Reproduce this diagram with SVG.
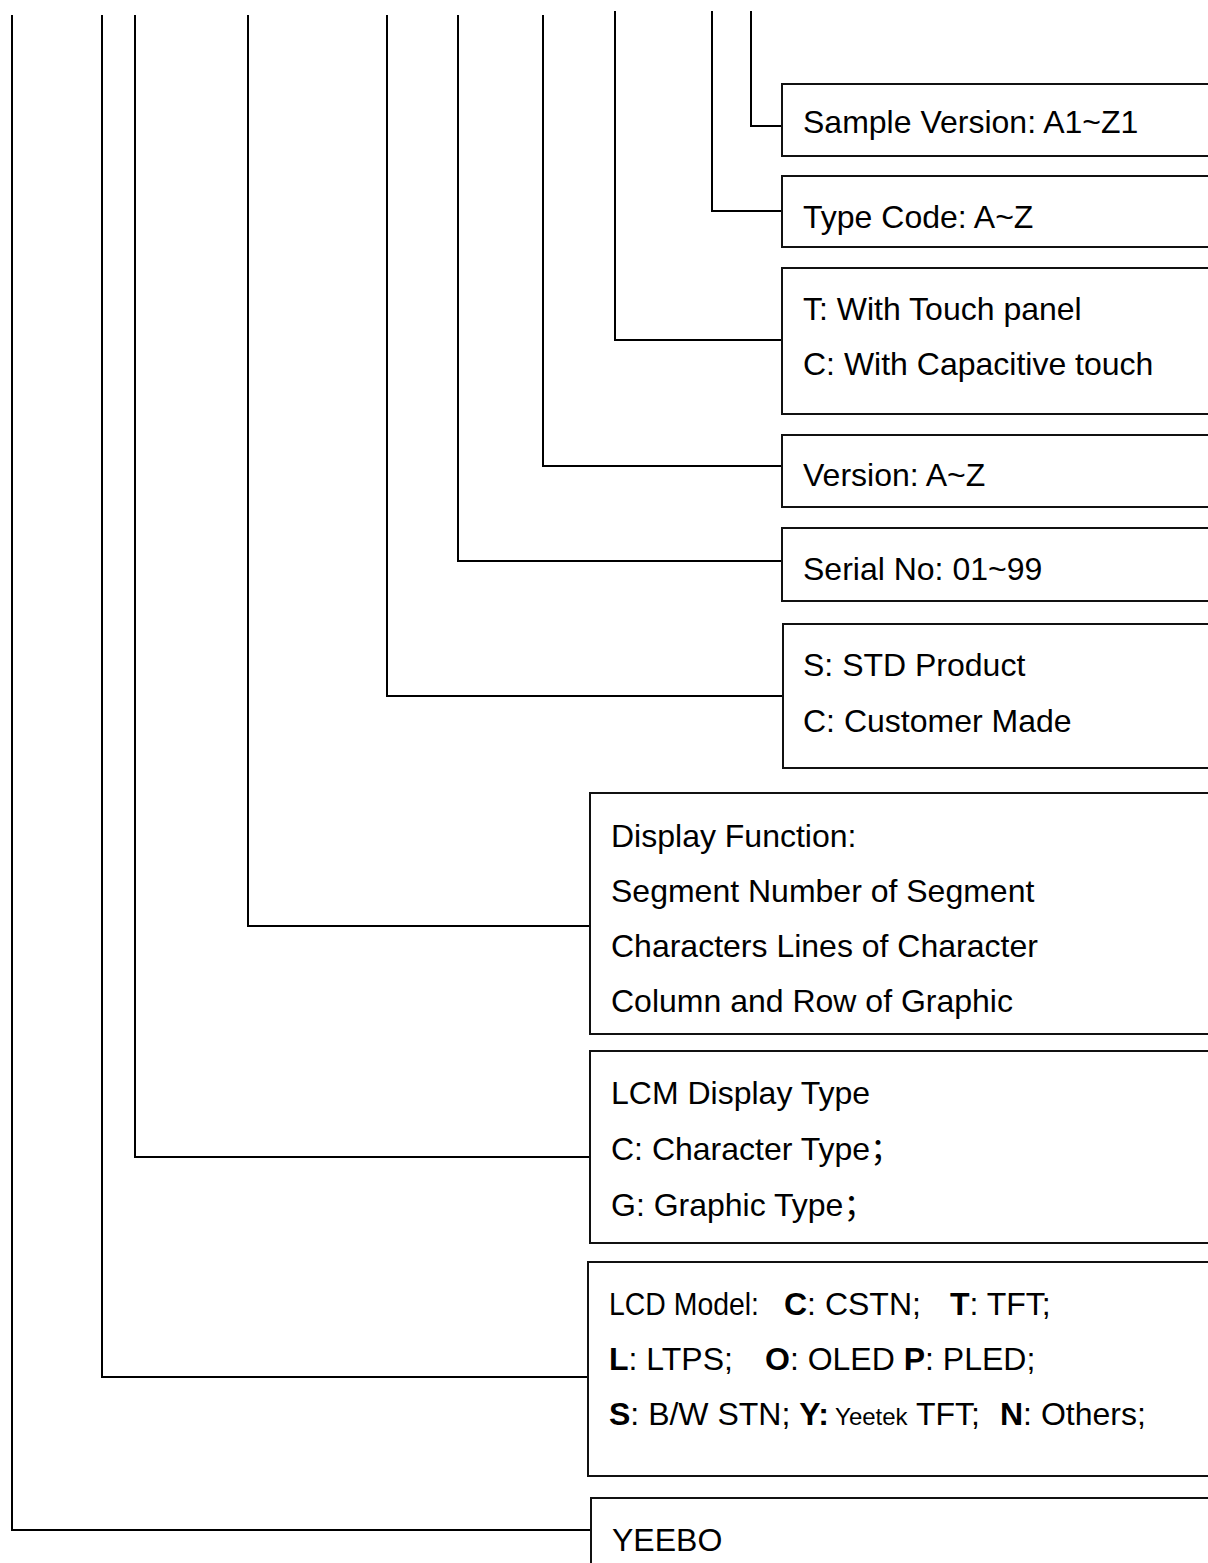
<svg xmlns="http://www.w3.org/2000/svg" width="1208" height="1563" viewBox="0 0 1208 1563">
<style>
.box{fill:#fff;stroke:#111;stroke-width:2}
.ln{fill:none;stroke:#000;stroke-width:2}
text{font-family:"Liberation Sans",Arial,"Noto Sans CJK SC",sans-serif;font-size:32px;fill:#000}
.b{font-weight:bold}
.s{font-size:24px}
</style>
<rect width="1208" height="1563" fill="#fff"/>
<g id="connectors">
<path class="ln" d="M12,15 V1530 H591"/>
<path class="ln" d="M102,15 V1377 H587"/>
<path class="ln" d="M135,15 V1157 H590"/>
<path class="ln" d="M248,15 V926 H590"/>
<path class="ln" d="M387,15 V696 H783"/>
<path class="ln" d="M458,15 V561 H782"/>
<path class="ln" d="M543,15 V466 H782"/>
<path class="ln" d="M615,11 V340 H782"/>
<path class="ln" d="M712,11 V211 H782"/>
<path class="ln" d="M751,11 V126 H782"/>
</g>
<g id="sample"><rect class="box" x="782" y="84" width="440" height="72"/><text x="803" y="133">Sample Version: A1~Z1</text></g>
<g id="type"><rect class="box" x="782" y="176" width="440" height="71"/><text x="803" y="228">Type Code: A~Z</text></g>
<g id="touch"><rect class="box" x="782" y="268" width="440" height="146"/><text x="803" y="320">T: With Touch panel</text><text x="803" y="375">C: With Capacitive touch</text></g>
<g id="version"><rect class="box" x="782" y="435" width="440" height="72"/><text x="803" y="486">Version: A~Z</text></g>
<g id="serial"><rect class="box" x="782" y="528" width="440" height="73"/><text x="803" y="580">Serial No: 01~99</text></g>
<g id="product"><rect class="box" x="783" y="624" width="440" height="144"/><text x="803" y="676">S: STD Product</text><text x="803" y="732">C: Customer Made</text></g>
<g id="display"><rect class="box" x="590" y="793" width="640" height="241"/><text x="611" y="847">Display Function:</text><text x="611" y="902">Segment Number of Segment</text><text x="611" y="957">Characters Lines of Character</text><text x="611" y="1012">Column and Row of Graphic</text></g>
<g id="lcm"><rect class="box" x="590" y="1051" width="640" height="192"/><text x="611" y="1104">LCM Display Type</text><text x="611" y="1160">C: Character Type；</text><text x="611" y="1216">G: Graphic Type；</text></g>
<g id="lcd"><rect class="box" x="588" y="1262" width="640" height="214"/>
<text x="609" y="1315"><tspan textLength="150" lengthAdjust="spacingAndGlyphs">LCD Model:</tspan><tspan class="b" x="784">C</tspan>: CSTN;<tspan class="b" x="950">T</tspan>: TFT;</text>
<text x="609" y="1370"><tspan class="b">L</tspan>: LTPS;<tspan class="b" x="765">O</tspan>: OLED <tspan class="b">P</tspan>: PLED;</text>
<text x="609" y="1425"><tspan class="b">S</tspan>: B/W STN; <tspan class="b">Y:</tspan><tspan class="s"> Yeetek</tspan> TFT; <tspan class="b" x="1000">N</tspan>: Others;</text>
</g>
<g id="yeebo"><rect class="box" x="591" y="1498" width="640" height="90"/><text x="612" y="1551">YEEBO</text></g>
</svg>
